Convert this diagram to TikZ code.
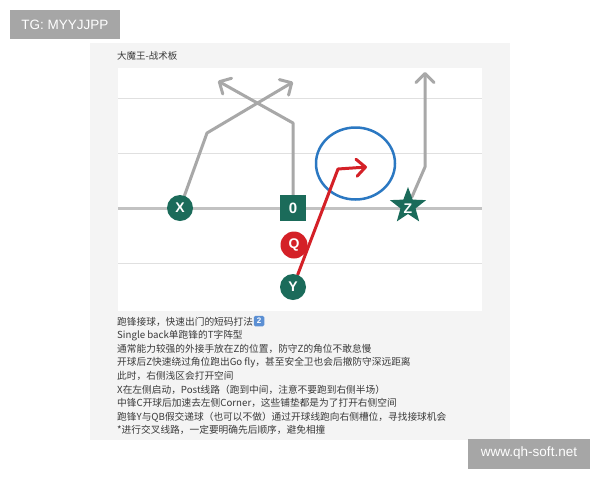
\documentclass[tikz,border=0pt]{standalone}
\usepackage{fontspec}
\setmainfont{Liberation Sans}
\newfontfamily\cjk{Noto Sans CJK SC}
\usetikzlibrary{shapes.geometric,arrows.meta}
\pgfdeclarelayer{back}
\pgfdeclarelayer{routes}
\pgfsetlayers{back,routes,main}
\definecolor{teamgreen}{HTML}{1B6B5A}
\definecolor{qbred}{HTML}{D42027}
\definecolor{zoneblue}{HTML}{2B78C2}
\definecolor{routegray}{HTML}{A8A8A8}
\definecolor{panelgray}{HTML}{F4F4F4}
\definecolor{tagggray}{HTML}{A6A6A6}
\definecolor{txtgray}{HTML}{3A3A3A}
\definecolor{keyblue}{HTML}{5B8FD3}
\tikzset{
  player/.style={circle, fill=teamgreen, text=white, minimum size=26pt, inner sep=0pt,
    font=\bfseries\fontsize{14}{14}\selectfont},
  route/.style={draw=routegray, line width=3pt, line cap=round, line join=round,
    -{Straight Barb[length=9pt,width=18pt,round]}},
  redroute/.style={draw=qbred, line width=3pt, line cap=round, line join=round,
    -{Straight Barb[length=9pt,width=17pt,round]}},
  fieldthin/.style={draw=black!12, line width=1pt},
  fieldmain/.style={draw=black!24, line width=3pt},
  infoline/.style={anchor=base west, inner sep=0pt, text=txtgray,
    font=\cjk\fontsize{9.7}{12}\selectfont},
  tagbox/.style={fill=tagggray, text=white, inner sep=0pt}
}
\begin{document}
\begin{tikzpicture}[x=1pt,y=-1pt]
\useasboundingbox (0,0) rectangle (600,480);
\begin{pgfonlayer}{back}
\fill[white] (0,0) rectangle (600,480);
\fill[panelgray] (90,43) rectangle (510,440);
\fill[white] (118,68) rectangle (482,311);
\draw[fieldthin] (118,98) -- (482,98);
\draw[fieldthin] (118,153) -- (482,153);
\draw[fieldthin] (118,263) -- (482,263);
\draw[fieldmain] (118,208) -- (482,208);
\end{pgfonlayer}
\node[anchor=base west, inner sep=0pt, text=txtgray, font=\cjk\fontsize{9.5}{11}\selectfont] (title) at (117,59) {大魔王-战术板};
% zone
\begin{pgfonlayer}{back}
\node[ellipse, draw=zoneblue, line width=2.5pt, minimum width=79pt, minimum height=72pt, inner sep=0pt] (zone) at (355.5,163.5) {};
\end{pgfonlayer}
% players
\node[player] (X) at (180,208) {X};
\node[rectangle, fill=teamgreen, text=white, minimum size=26pt, inner sep=0pt,
  font=\bfseries\fontsize{15}{15}\selectfont] (C) at (293,208) {0};
\node[star, star points=5, star point ratio=2.4, fill=teamgreen, text=white, minimum size=38pt, inner sep=0pt,
  font=\bfseries\fontsize{14}{14}\selectfont] (Z) at (408,206) {};
\node[text=white, font=\bfseries\fontsize{14}{14}\selectfont] (Zl) at (408,209) {Z};
\node[player, fill=qbred, minimum size=27pt] (Q) at (294,245) {Q};
\node[player] (Y) at (293,287) {Y};
% route points
\coordinate (xb) at (207,133);
\coordinate (xt) at (293,82);
\coordinate (cb) at (293,123);
\coordinate (ct) at (218,81);
\coordinate (zb) at (425,167);
\coordinate (zt) at (425,72);
\coordinate (yb) at (338,169);
\coordinate (yt) at (367,167);
% routes
\begin{pgfonlayer}{routes}
\draw[route] (X) -- (xb) -- (xt);
\draw[route] (C) -- (cb) -- (ct);
\draw[route] (Z) -- (zb) -- (zt);
\draw[redroute] (Y) -- (yb) -- (yt);
\end{pgfonlayer}
% text lines
\node[infoline] (l1) at (117,325) {跑锋接球，快速出门的短码打法};
\node[fill=keyblue, rounded corners=1.5pt, minimum size=10.5pt, inner sep=0pt, text=white,
  font=\bfseries\fontsize{8}{8}\selectfont] (key) at (259,321) {2};
\node[infoline] (l2) at (117,338.6) {Single back单跑锋的T字阵型};
\node[infoline] (l3) at (117,352.2) {通常能力较强的外接手放在Z的位置，防守Z的角位不敢怠慢};
\node[infoline] (l4) at (117,365.8) {开球后Z快速绕过角位跑出Go fly，甚至安全卫也会后撤防守深远距离};
\node[infoline] (l5) at (117,379.4) {此时，右侧浅区会打开空间};
\node[infoline] (l6) at (117,393) {X在左侧启动，Post线路（跑到中间，注意不要跑到右侧半场）};
\node[infoline] (l7) at (117,406.6) {中锋C开球后加速去左侧Corner，这些铺垫都是为了打开右侧空间};
\node[infoline] (l8) at (117,420.2) {跑锋Y与QB假交递球（也可以不做）通过开球线跑向右侧槽位，寻找接球机会};
\node[infoline] (l9) at (117,433.8) {*进行交叉线路，一定要明确先后顺序，避免相撞};
% watermarks
\fill[tagggray] (10,10) rectangle (120,39);
\node[text=white, font=\fontsize{13.5}{14}\selectfont] (tg) at (65,24.5) {TG: MYYJJPP};
\fill[tagggray] (468,439) rectangle (590,469);
\node[text=white, font=\fontsize{13.5}{14}\selectfont] (www) at (529,453) {www.qh-soft.net};
\end{tikzpicture}
\end{document}
